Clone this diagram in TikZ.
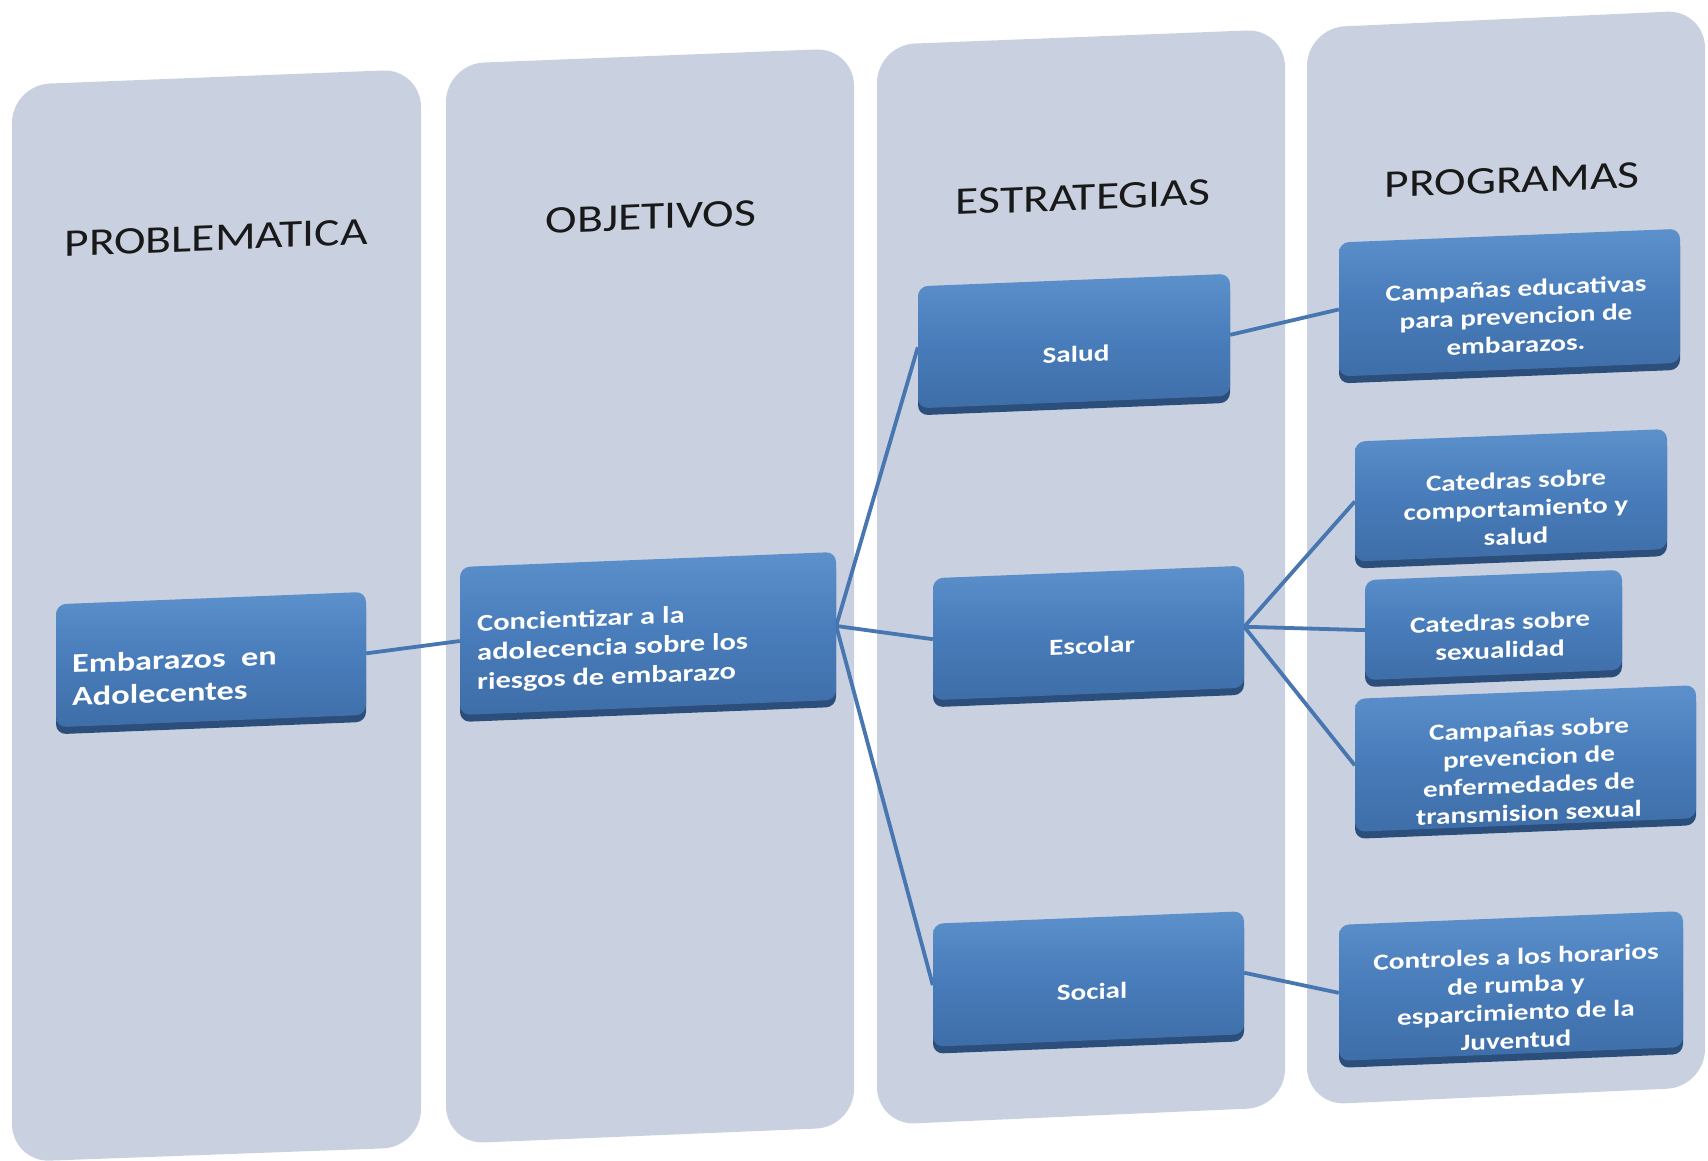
\documentclass[tikz,border=0pt]{standalone}
\usepackage{fontspec}
\setmainfont{Carlito}[FakeStretch=1.22]
\newfontfamily\bxfont{Carlito}[FakeStretch=1.27]
\usetikzlibrary{backgrounds,shadows}
\definecolor{colfill}{RGB}{201,209,224}
\definecolor{boxblue}{RGB}{72,124,186}
\definecolor{boxtop}{RGB}{92,145,204}
\definecolor{boxbot}{RGB}{62,110,168}
\definecolor{boxshade}{RGB}{44,78,122}
\definecolor{linkblue}{RGB}{72,118,176}
\begin{document}
\begin{tikzpicture}[x=1pt,y=-1pt,
  col/.style={fill=colfill, rounded corners=38pt},
  head/.style={font=\fontsize{39}{40}\selectfont, text=black!90, inner sep=0pt, anchor=base},
  bx/.style={rectangle, rounded corners=10pt, inner sep=0pt,
    top color=boxtop, bottom color=boxbot, middle color=boxblue,
    drop shadow={shadow xshift=0pt, shadow yshift=-7pt, fill=boxshade, opacity=1}},
  bt/.style={text=white, inner sep=0pt, font=\bxfont\bfseries\fontsize{23}{28}\selectfont, align=center},
  link/.style={draw=linkblue, line width=3.8pt}
]
\useasboundingbox (0,0) rectangle (1708,1160);
\begin{scope}[on background layer]
  \fill[col] (12,85) -- (421,69) -- (421,1147) -- (12,1162) -- cycle;
  \fill[col] (446,64) -- (854,48) -- (854,1127) -- (446,1144) -- cycle;
  \fill[col] (877,45) -- (1285,29) -- (1285,1107) -- (877,1125) -- cycle;
  \fill[col] (1307,28) -- (1705,10) -- (1705,1087) -- (1307,1105) -- cycle;
\end{scope}
\begin{scope}[yslant=0.04, transform shape]
  \node[head] (h1) at (216,259) {PROBLEMATICA};
  \node[head] (h2) at (651,255.5) {OBJETIVOS};
  \node[head] (h3) at (1083,253) {ESTRATEGIAS};
  \node[head] (h4) at (1512,253) {PROGRAMAS};
  % boxes
  \node[bx, minimum width=310pt, minimum height=123pt] (emb) at (211,668) {};
  \node[bx, minimum width=376pt, minimum height=148pt] (con) at (648,659.4) {};
  \node[bx, minimum width=312pt, minimum height=122pt] (sal) at (1074,384) {};
  \node[bx, minimum width=311pt, minimum height=122pt] (esc) at (1088.5,676.5) {};
  \node[bx, minimum width=311pt, minimum height=123pt] (soc) at (1088.5,1022.5) {};
  \node[bx, minimum width=341pt, minimum height=134pt] (p1) at (1509.5,363) {};
  \node[bx, minimum width=312pt, minimum height=120pt] (p2) at (1511,555.7) {};
  \node[bx, minimum width=257pt, minimum height=100pt] (p3) at (1493.5,684.7) {};
  \node[bx, minimum width=341pt, minimum height=133pt] (p4) at (1525.5,819.5) {};
  \node[bx, minimum width=344pt, minimum height=136pt] (p5) at (1511,1046.4) {};
  % texts
  \node[bt, anchor=west, align=left, font=\bxfont\bfseries\fontsize{27}{33}\selectfont] (emb-t) at (72,683) {Embarazos\ \ en\\Adolecentes};
  \node[bt, anchor=west, align=left, font=\bxfont\bfseries\fontsize{24}{29.3}\selectfont] (con-t) at (477,673) {Concientizar a la\\adolecencia sobre los\\riesgos de embarazo};
  \node[bt] (sal-t) at (1076,397) {Salud};
  \node[bt] (esc-t) at (1092,689) {Escolar};
  \node[bt] (soc-t) at (1092,1035) {Social};
  \node[bt] (p1-t) at (1516,377) {Campañas educativas\\para prevencion de\\embarazos.};
  \node[bt] (p2-t) at (1516,569) {Catedras sobre\\comportamiento y\\salud};
  \node[bt] (p3-t) at (1500,696) {Catedras sobre\\sexualidad};
  \node[bt] (p4-t) at (1529,832) {Campañas sobre\\prevencion de\\enfermedades de\\transmision sexual};
  \node[bt] (p5-t) at (1516,1059) {Controles a los horarios\\de rumba  y\\esparcimiento de la\\Juventud};
\end{scope}
\begin{scope}[on background layer]
  \draw[link] (emb.east) -- (con.west);
  \draw[link] (con.east) -- (sal.west);
  \draw[link] (con.east) -- (esc.west);
  \draw[link] (con.east) -- (soc.west);
  \draw[link] (sal.east) -- (p1.west);
  \draw[link] (esc.east) -- (p2.west);
  \draw[link] (esc.east) -- (p3.west);
  \draw[link] (esc.east) -- (p4.west);
  \draw[link] (soc.east) -- (p5.west);
\end{scope}
\end{tikzpicture}
\end{document}
